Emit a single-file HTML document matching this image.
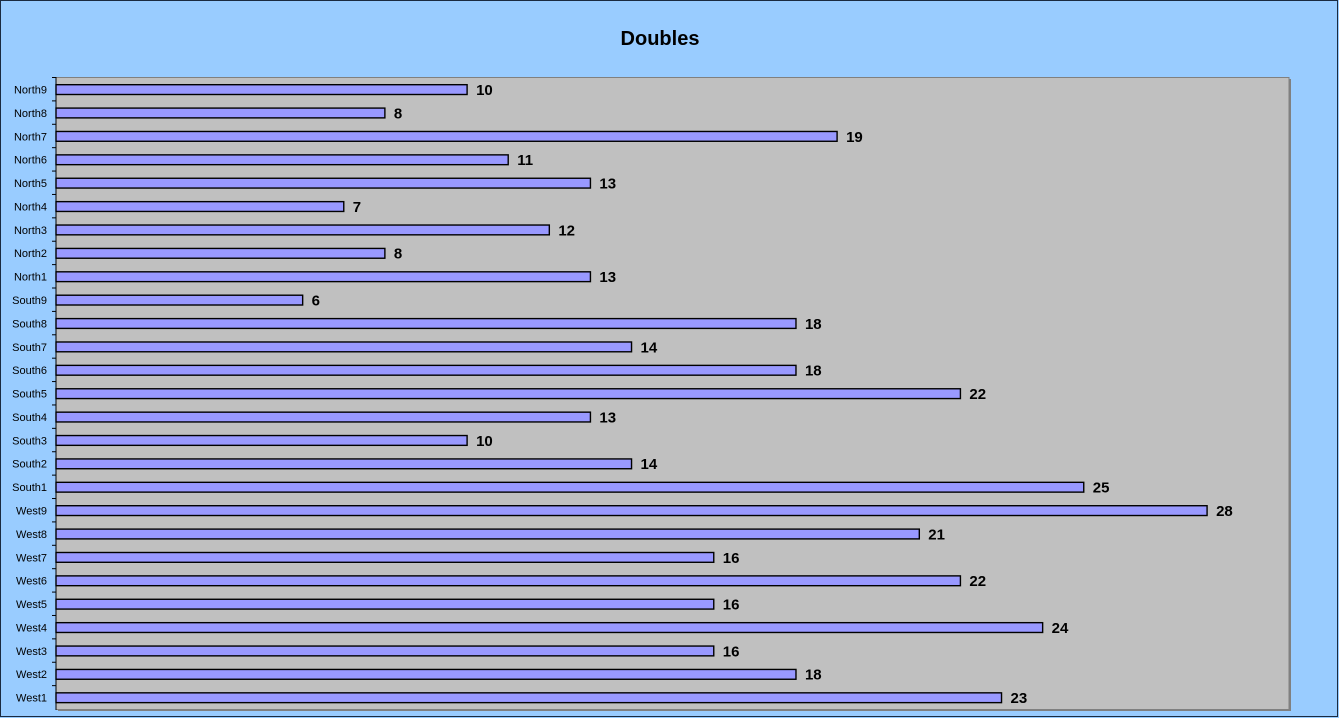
<!DOCTYPE html><html><head><style>html,body{margin:0;overflow:hidden;background:#99ccff}svg{display:block}</style></head><body>
<svg width="1339" height="718" xmlns="http://www.w3.org/2000/svg" font-family="Liberation Sans, Arial, sans-serif">
<rect x="0.5" y="0.5" width="1337" height="716" fill="#99ccff" stroke="#1a2a40" stroke-width="1"/>
<text x="660" y="45" text-anchor="middle" font-size="20" font-weight="bold">Doubles</text>
<rect x="58" y="79" width="1233" height="632" fill="#808080"/>
<rect x="56" y="77.5" width="1233" height="632" fill="#c0c0c0" stroke="#808080" stroke-width="1"/>
<line x1="56" y1="77" x2="56" y2="710" stroke="#000" stroke-width="1"/>
<g id="g"></g>
</svg>
<script>
var d=[["North9",10],["North8",8],["North7",19],["North6",11],["North5",13],["North4",7],["North3",12],["North2",8],["North1",13],["South9",6],["South8",18],["South7",14],["South6",18],["South5",22],["South4",13],["South3",10],["South2",14],["South1",25],["West9",28],["West8",21],["West7",16],["West6",22],["West5",16],["West4",24],["West3",16],["West2",18],["West1",23]];
var s="",h=23.39,t=77.5;
for(var i=0;i<27;i++){var c=t+h*(i+0.5)+0.3,w=d[i][1]*41.11;
s+='<rect x="56" y="'+(c-4.8)+'" width="'+w+'" height="9.8" fill="#9999ff" stroke="#000" stroke-width="1.4"/>';
s+='<text x="47" y="'+(c+4)+'" text-anchor="end" font-size="11">'+d[i][0]+'</text>';
s+='<text x="'+(56+w+9)+'" y="'+(c+5.5)+'" font-size="15" font-weight="bold">'+d[i][1]+'</text>';
s+='<line x1="52" x2="56" y1="'+(t+h*i)+'" y2="'+(t+h*i)+'" stroke="#000"/>';}
document.getElementById("g").innerHTML=s;
</script>
</body></html>
